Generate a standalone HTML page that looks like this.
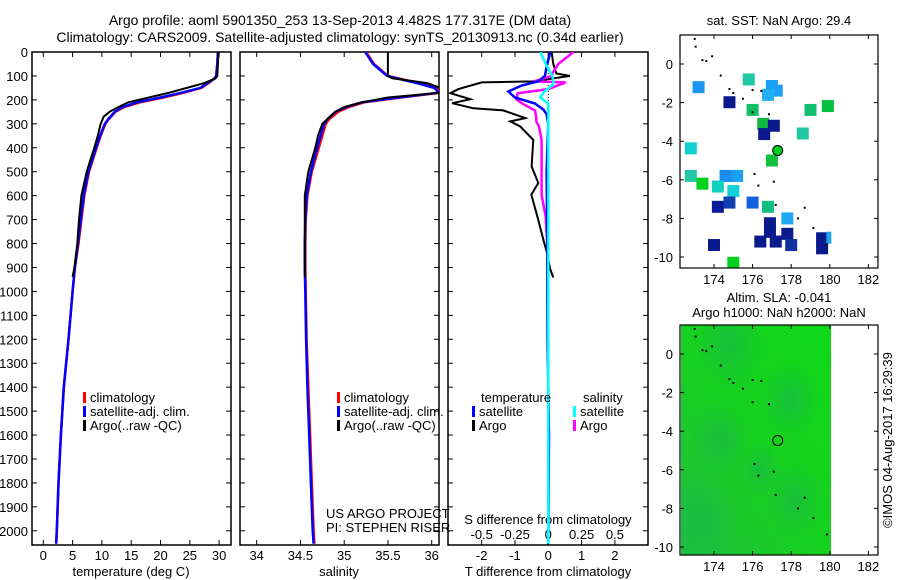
<!DOCTYPE html>
<html><head><meta charset="utf-8">
<style>
body{margin:0;background:#fff;}
svg{display:block;font-family:"Liberation Sans",sans-serif;}
text{font-size:13px;fill:#000;}
.title{font-size:14px;}
</style></head>
<body>
<svg id="chart" width="900" height="580" viewBox="0 0 900 580">
<defs>
<clipPath id="c1"><rect x="32" y="52" width="199" height="493"/></clipPath>
<clipPath id="c2"><rect x="240" y="52" width="199" height="493"/></clipPath>
<clipPath id="c3"><rect x="448" y="52" width="200" height="493"/></clipPath>
<clipPath id="cm1"><rect x="680" y="35" width="198" height="233"/></clipPath>
<clipPath id="cm2"><rect x="681" y="325" width="150" height="230"/></clipPath>
<radialGradient id="gb1" cx="0.5" cy="0.5" r="0.5"><stop offset="0" stop-color="#18b848" stop-opacity="0.7"/><stop offset="1" stop-color="#18b848" stop-opacity="0"/></radialGradient>
<linearGradient id="gbase" x1="0" y1="1" x2="1" y2="0"><stop offset="0" stop-color="#20c040"/><stop offset="0.45" stop-color="#18d020"/><stop offset="1" stop-color="#10d818"/></linearGradient>
</defs>
<text class="title" x="340" y="25" text-anchor="middle">Argo profile: aoml 5901350_253 13-Sep-2013 4.482S 177.317E (DM data)</text>
<text class="title" x="340" y="42" text-anchor="middle">Climatology: CARS2009. Satellite-adjusted climatology: synTS_20130913.nc (0.34d earlier)</text>
<g id="p1"></g>
<g id="p2"></g>
<g id="p3"></g>
<g id="m1"></g>
<g id="m2"></g>
<text transform="translate(892,440) rotate(-90)" text-anchor="middle">©IMOS 04-Aug-2017 16:29:39</text>
</svg>
<script>
// ---- data ----
const depthTicks=[0,100,200,300,400,500,600,700,800,900,1000,1100,1200,1300,1400,1500,1600,1700,1800,1900,2000];
const tempTicks=[0,5,10,15,20,25,30];
const salTicks=[34,34.5,35,35.5,36];
const tDiffTicks=[-2,-1,0,1,2];
const sDiffTicks=[-0.5,-0.25,0,0.25,0.5];
const climDepth=[0,50,100,110,130,150,170,190,210,230,250,280,300,350,400,500,600,700,800,900,1000,1200,1400,1600,1800,2000,2054];
const climTemp=[29.8,29.7,29.5,29.2,28.2,27,24,20.5,16.5,13.8,12.3,11.2,10.6,9.8,9.1,7.8,7.0,6.5,6.0,5.4,5.0,4.3,3.5,3.0,2.6,2.3,2.2];
const satTemp=[29.8,29.7,29.5,29.3,28.0,26.8,23.6,20.0,16.0,13.5,12.2,11.1,10.5,9.7,9.0,7.7,6.9,6.4,5.9,5.4,5.0,4.3,3.5,3.0,2.6,2.3,2.2];
const argoDepth=[0,50,100,110,130,150,170,190,210,230,250,270,300,350,400,500,600,700,800,900,940];
const argoTemp=[29.9,29.8,29.7,29.4,27.5,24.5,21.5,18,14.5,12.8,11.3,10.3,9.8,9.3,8.7,7.4,6.5,6.1,5.8,5.3,5.0];
const climSal=[35.25,35.34,35.5,35.62,35.85,36.05,36.1,35.65,35.23,35.05,34.93,34.83,34.79,34.75,34.71,34.63,34.58,34.56,34.555,34.555,34.56,34.57,34.59,34.61,34.63,34.65,34.66];
const satSal=[35.24,35.33,35.49,35.6,35.83,36.03,36.08,35.62,35.2,35.02,34.9,34.81,34.77,34.73,34.69,34.62,34.57,34.555,34.55,34.55,34.555,34.565,34.58,34.6,34.62,34.64,34.65];
const argoSal=[35.5,35.5,35.5,35.55,35.95,36.1,36.1,35.5,35.2,35.0,34.9,34.84,34.75,34.7,34.67,34.59,34.55,34.55,34.55,34.55,34.55];
const diffDepth=[0,50,90,100,123,127,155,172,197,214,235,244,276,290,311,367,478,547,596,686,783,839,908,942];
const argoTDiff=[0.1,0.15,0.24,0.65,-0.45,-2.0,-2.7,-2.94,-2.34,-2.89,-2.25,-1.35,-0.69,-1.14,-0.84,-0.45,-0.5,-0.3,-0.51,-0.33,-0.15,-0.04,0.06,0.15];
const argoSDiff=[0.19,0.075,0.03,0.03,-0.11,0.13,0.0,-0.23,-0.24,-0.2,-0.13,-0.1,-0.09,-0.09,-0.07,-0.05,-0.05,-0.05,-0.05,-0.02,-0.01,0,0,0];
const satDepth=[0,60,100,123,140,165,190,215,240,260,300,500,800,1200,1600,2054];
const satTDiff=[0.06,-0.05,-0.1,-0.3,-0.8,-1.2,-1.0,-0.4,-0.15,-0.05,0,-0.05,-0.03,-0.02,0.02,0.0];
const satSDiff=[-0.06,-0.01,0.03,0.04,0.03,-0.03,-0.06,0,0,0,0,0,0,0,0,0];
const squareLon=[175.8,173.2,177.0,177.25,176.8,174.8,176.0,179.0,179.9,176.55,177.1,176.6,178.6,172.8,177.0,172.8,173.4,174.6,175.2,174.2,175.0,174.2,174.8,176.0,176.8,177.8,176.9,176.9,177.8,176.4,177.2,178.0,179.6,179.6,174.0,175.0,179.95];
const squareLat=[-0.8,-1.2,-1.14,-1.38,-1.6,-1.98,-2.38,-2.38,-2.18,-3.1,-3.2,-3.63,-3.6,-4.37,-5.0,-5.8,-6.2,-5.8,-5.8,-6.35,-6.58,-7.4,-7.18,-7.18,-7.4,-8.0,-8.25,-8.7,-8.8,-9.2,-9.2,-9.38,-9.03,-9.55,-9.38,-10.3,-9.0];
const squareColor=["#1ec8a5","#1996f0","#1aa0f0","#20a0f5","#22b0f5","#0a1a8c","#10c060","#10c070","#00c040","#10b840","#0a1a8c","#0a1a8c","#20c8a0","#10d0d0","#10c040","#20c8a8","#00d020","#1a8cf0","#1aa0f0","#10d0c0","#10d0d8","#0a1a98","#1040b0","#1060e0","#10c080","#20a8f0","#0a1a8c","#0a1a8c","#0a1a8c","#0a1a8c","#0a1a8c","#1030a0","#0a1a8c","#0a1a8c","#0a1a8c","#00d020","#20a0f0"];
const argoLon=[177.3], argoLat=[-4.48];
const latTicks=[0,-2,-4,-6,-8,-10];
const lonTicks=[174,176,178,180,182];
const coastLon=[173.0,173.05,173.4,173.6,173.9,174.35,174.8,175.0,175.5,176.0,176.45,176.85,176.0,176.1,176.3,177.1,177.2,178.35,178.7,179.15,179.85];
const coastLat=[1.3,0.9,0.2,0.15,0.4,-0.6,-1.3,-1.5,-1.8,-1.35,-1.4,-2.6,-2.5,-5.7,-6.3,-6.1,-7.3,-8.0,-7.45,-8.5,-9.35];

// ---- helpers ----
const NS="http://www.w3.org/2000/svg";
function mk(parent,tag,attrs){const e=document.createElementNS(NS,tag);for(const k in attrs)e.setAttribute(k,attrs[k]);parent.appendChild(e);return e;}
function txt(parent,x,y,s,anchor){const t=mk(parent,'text',{x:x,y:y,'text-anchor':anchor||'start'});t.textContent=s;return t;}
const Y=d=>52+0.2394*d;
const tX=v=>43.3+5.86*v;
const sX=v=>256.7+87.5*(v-34);
const dX=v=>548.3+33.3*v;
const sdX=v=>548.3+133.2*v;

function frame(g,x0,x1,name){
  const r=mk(g,'rect',{x:x0,y:52,width:x1-x0,height:493,fill:'none',stroke:'#000','stroke-width':1.5});
  
  
  depthTicks.forEach(d=>{mk(g,'line',{x1:x0,x2:x0+5,y1:Y(d),y2:Y(d),stroke:'#000'});mk(g,'line',{x1:x1,x2:x1-5,y1:Y(d),y2:Y(d),stroke:'#000'});});
}
function line(g,xs,ds,fx,color,w,name,clip){
  const p=xs.map((v,i)=>fx(v).toFixed(1)+','+Y(ds[i]).toFixed(1)).join(' ');
  const l=mk(g,'polyline',{points:p,fill:'none',stroke:color,'stroke-width':w,'clip-path':'url(#'+clip+')'});
  
  
}
function legend(g,x,y,items){
  items.forEach((it,i)=>{mk(g,'rect',{x:x,y:y+i*14-10,width:3,height:11,fill:it[1]});const t=txt(g,x+7,y+i*14,it[0]);
    
    });
}

// ---- panel 1 ----
const p1=document.getElementById('p1');
frame(p1,32,231,'temperature-axes');
depthTicks.forEach(d=>{const t=txt(p1,28,Y(d)+5,String(d),'end');
  
  });
tempTicks.forEach(v=>{mk(p1,'line',{x1:tX(v),x2:tX(v),y1:545,y2:540,stroke:'#000'});mk(p1,'line',{x1:tX(v),x2:tX(v),y1:52,y2:57,stroke:'#000'});txt(p1,tX(v),560,String(v),'middle');});
txt(p1,131,576,'temperature (deg C)','middle');
line(p1,climTemp,climDepth,tX,'#ff0000',2.5,'climatology-temp-line','c1');
line(p1,satTemp,climDepth,tX,'#0000ff',2.5,'satellite-temp-line','c1');
line(p1,argoTemp,argoDepth,tX,'#000',2,'argo-temp-line','c1');
legend(p1,83,402,[['climatology','#ff0000'],['satellite-adj. clim.','#0000ff'],['Argo(..raw -QC)','#000']]);

// ---- panel 2 ----
const p2=document.getElementById('p2');
frame(p2,240,439,'salinity-axes');
salTicks.forEach(v=>{mk(p2,'line',{x1:sX(v),x2:sX(v),y1:545,y2:540,stroke:'#000'});mk(p2,'line',{x1:sX(v),x2:sX(v),y1:52,y2:57,stroke:'#000'});txt(p2,sX(v),560,String(v),'middle');});
txt(p2,339,576,'salinity','middle');
line(p2,climSal,climDepth,sX,'#ff0000',2.5,'climatology-sal-line','c2');
line(p2,satSal,climDepth,sX,'#0000ff',2.5,'satellite-sal-line','c2');
line(p2,argoSal,argoDepth,sX,'#000',2,'argo-sal-line','c2');
legend(p2,337,402,[['climatology','#ff0000'],['satellite-adj. clim.','#0000ff'],['Argo(..raw -QC)','#000']]);
txt(p2,326,518,'US ARGO PROJECT');
txt(p2,326,532,'PI: STEPHEN RISER');

// ---- panel 3 ----
const p3=document.getElementById('p3');
frame(p3,448,648,'difference-axes');
mk(p3,'line',{x1:548.3,x2:548.3,y1:52,y2:400,stroke:'#000','stroke-dasharray':'1,2'});
tDiffTicks.forEach(v=>{mk(p3,'line',{x1:dX(v),x2:dX(v),y1:545,y2:540,stroke:'#000'});mk(p3,'line',{x1:dX(v),x2:dX(v),y1:52,y2:57,stroke:'#000'});txt(p3,dX(v),560,String(v),'middle');});
sDiffTicks.forEach(v=>{txt(p3,sdX(v),539,String(v),'middle');});
txt(p3,548,576,'T difference from climatology','middle');
txt(p3,548,524,'S difference from climatology','middle');
line(p3,argoTDiff,diffDepth,dX,'#000',2,'argo-tdiff-line','c3');
line(p3,argoSDiff,diffDepth,sdX,'#ff00ff',2.5,'argo-sdiff-line','c3');
line(p3,satTDiff,satDepth,dX,'#0000ff',2.5,'satellite-tdiff-line','c3');
line(p3,satSDiff,satDepth,sdX,'#00ffff',2.5,'satellite-sdiff-line','c3');
txt(p3,481,402,'temperature');
txt(p3,583,402,'salinity');
legend(p3,472,416,[['satellite','#0000ff'],['Argo','#000']]);
legend(p3,573,416,[['satellite','#00ffff'],['Argo','#ff00ff']]);

// ---- maps ----
const lonX=v=>714+19.3*(v-174);
function mapAxes(g,top,bottom,y0,name){
  const latY=v=>y0-19.3*v;
  const r=mk(g,'rect',{x:680,y:top,width:198,height:bottom-top,fill:'none',stroke:'#000','stroke-width':1.2});
  
  
  latTicks.forEach(v=>{mk(g,'line',{x1:680,x2:684,y1:latY(v),y2:latY(v),stroke:'#000'});mk(g,'line',{x1:878,x2:874,y1:latY(v),y2:latY(v),stroke:'#000'});txt(g,673,latY(v)+5,String(v),'end');});
  lonTicks.forEach(v=>{mk(g,'line',{x1:lonX(v),x2:lonX(v),y1:bottom,y2:bottom-4,stroke:'#000'});mk(g,'line',{x1:lonX(v),x2:lonX(v),y1:top,y2:top+4,stroke:'#000'});txt(g,lonX(v),bottom+16,String(v),'middle');});
  return latY;
}
const m1=document.getElementById('m1');
const lat1=v=>64-19.3*v;
const sq=m1.appendChild(document.createElementNS(NS,'g'));
sq.setAttribute('clip-path','url(#cm1)');
squareLon.forEach((lo,i)=>{const w=(i==36)?5:12;const r=mk(sq,'rect',{x:lonX(lo)-w/2,y:lat1(squareLat[i])-6,width:w,height:12,fill:squareColor[i]});
  
  });
coastLon.forEach((lo,i)=>mk(m1,'rect',{x:lonX(lo)-1,y:lat1(coastLat[i])-1,width:2,height:2,fill:'#000'}));
mapAxes(m1,35,268,64,'sst-map-axes');
argoLon.forEach((lo,i)=>{const c=mk(m1,'circle',{cx:lonX(lo),cy:lat1(argoLat[i]),r:5,fill:'#00d020',stroke:'#000','stroke-width':1});
  
  });
txt(m1,779,25,'sat. SST: NaN Argo: 29.4','middle');

const m2=document.getElementById('m2');
const lat2=v=>354-19.3*v;
const fg=m2.appendChild(document.createElementNS(NS,'g'));
fg.setAttribute('clip-path','url(#cm2)');
const field=mk(fg,'rect',{x:681,y:325,width:150,height:230,fill:'url(#gbase)'});


[[730,345,35],[790,400,30],[720,440,30],[795,500,30],[700,520,40],[760,470,22]].forEach(b=>mk(fg,'ellipse',{cx:b[0],cy:b[1],rx:b[2],ry:b[2]*1.3,fill:'url(#gb1)'}));
coastLon.forEach((lo,i)=>mk(m2,'rect',{x:lonX(lo)-1,y:lat2(coastLat[i])-1,width:2,height:2,fill:'#000'}));
mapAxes(m2,325,555,354,'sla-map-axes');
argoLon.forEach((lo,i)=>{const c=mk(m2,'circle',{cx:lonX(lo),cy:lat2(argoLat[i]),r:5,fill:'none',stroke:'#000','stroke-width':1});
  
  });
txt(m2,779,302,'Altim. SLA: -0.041','middle');
txt(m2,779,317,'Argo h1000: NaN h2000: NaN','middle');
</script>
</body></html>
